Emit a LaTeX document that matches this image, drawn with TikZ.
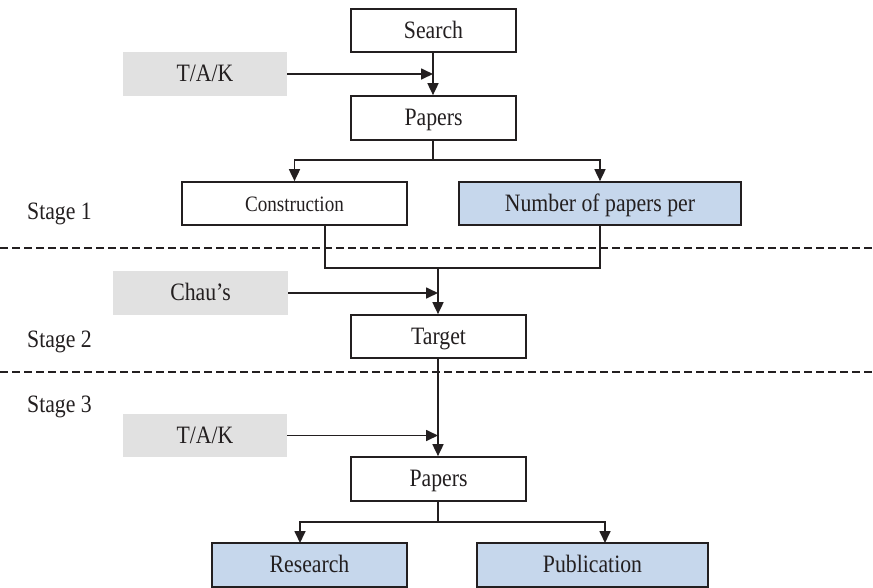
\documentclass[tikz,border=0pt]{standalone}
\usepackage{fontspec}
\setmainfont{Liberation Serif}[FakeStretch=0.87]
\usetikzlibrary{arrows.meta}
\definecolor{ink}{HTML}{231F20}
\definecolor{graybox}{HTML}{E1E1E1}
\definecolor{bluebox}{HTML}{C6D7EC}
\tikzset{
  box/.style={draw=ink, line width=1.7pt, fill=white, inner sep=0pt, text=ink,
    font=\fontsize{25}{30}\selectfont, minimum height=43pt,
    text height=18pt, text depth=3pt},
  bluefill/.style={box, fill=bluebox},
  grayfill/.style={fill=graybox, inner sep=0pt, text=ink,
    font=\fontsize{25}{30}\selectfont, minimum height=43pt,
    text height=18pt, text depth=3pt},
  stagelabel/.style={anchor=west, inner sep=0pt, text=ink, font=\fontsize{25}{30}\selectfont},
  conn/.style={draw=ink, line width=1.7pt},
  arr/.style={conn, -{Triangle[length=12pt,width=11pt]}},
  sep/.style={draw=ink, line width=1.4pt, dash pattern=on 8pt off 4pt}
}
\begin{document}
\begin{tikzpicture}[x=1pt,y=-1pt]
\useasboundingbox (0,0) rectangle (873,587);
\clip (0,0) rectangle (873,587);
% separators
\draw[sep] (0,248) -- (873,248);
\draw[sep] (0,372) -- (873,372);
% stage labels
\node[stagelabel] (s1) at (27,214) {Stage 1};
\node[stagelabel] (s2) at (27,342) {Stage 2};
\node[stagelabel] (s3) at (27,407) {Stage 3};
% nodes
\node[box, minimum width=165pt] (search) at (433.5,30.5) {Search};
\node[grayfill, minimum width=164pt, minimum height=44pt] (tak1) at (205,74) {T/A/K};
\node[box, minimum width=165pt, minimum height=44pt] (papers1) at (433.5,118) {Papers};
\node[box, minimum width=225pt, font=\fontsize{22}{26}\selectfont] (constr) at (294.5,203.5) {Construction};
\node[bluefill, minimum width=282pt] (number) at (600,203.5) {Number of papers per};
\node[grayfill, minimum width=175pt, minimum height=44pt] (chau) at (200.5,293) {Chau’s};
\node[box, minimum width=175pt] (target) at (438.5,336.5) {Target};
\node[grayfill, minimum width=164pt] (tak2) at (205,435.5) {T/A/K};
\node[box, minimum width=175pt, minimum height=44pt] (papers2) at (438.5,479) {Papers};
\node[bluefill, minimum width=195pt, minimum height=44pt] (research) at (309.5,565) {Research};
\node[bluefill, minimum width=231pt, minimum height=44pt] (public) at (592.5,565) {Publication};
% helper coordinates
\coordinate (a1) at (433,74);
\coordinate (b1) at (433,160);
\coordinate (cl) at (325,268);
\coordinate (cr) at (600,268);
\coordinate (j) at (438,268);
\coordinate (a2) at (438,293);
\coordinate (a3) at (438,435.5);
\coordinate (b3) at (438,522);
\coordinate (rtop) at (300,543);
\coordinate (ptop) at (605,543);
% connectors
\draw[arr] (search.south -| a1) -- (papers1.north -| a1);
\draw[arr] (tak1.east) -- (a1);
\draw[arr] (papers1.south -| b1) -- (b1) -| (constr.north);
\draw[arr] (b1) -| (number.north);
\draw[conn] (constr.south -| cl) -- (cl) -- (cr) -- (number.south -| cr);
\draw[arr] (j) -- (target.north -| j);
\draw[arr] (chau.east) -- (a2);
\draw[arr] (target.south -| j) -- (papers2.north -| j);
\draw[arr] (tak2.east) -- (a3);
\draw[arr] (papers2.south -| b3) -- (b3) -| (rtop);
\draw[arr] (b3) -| (ptop);
\end{tikzpicture}
\end{document}
